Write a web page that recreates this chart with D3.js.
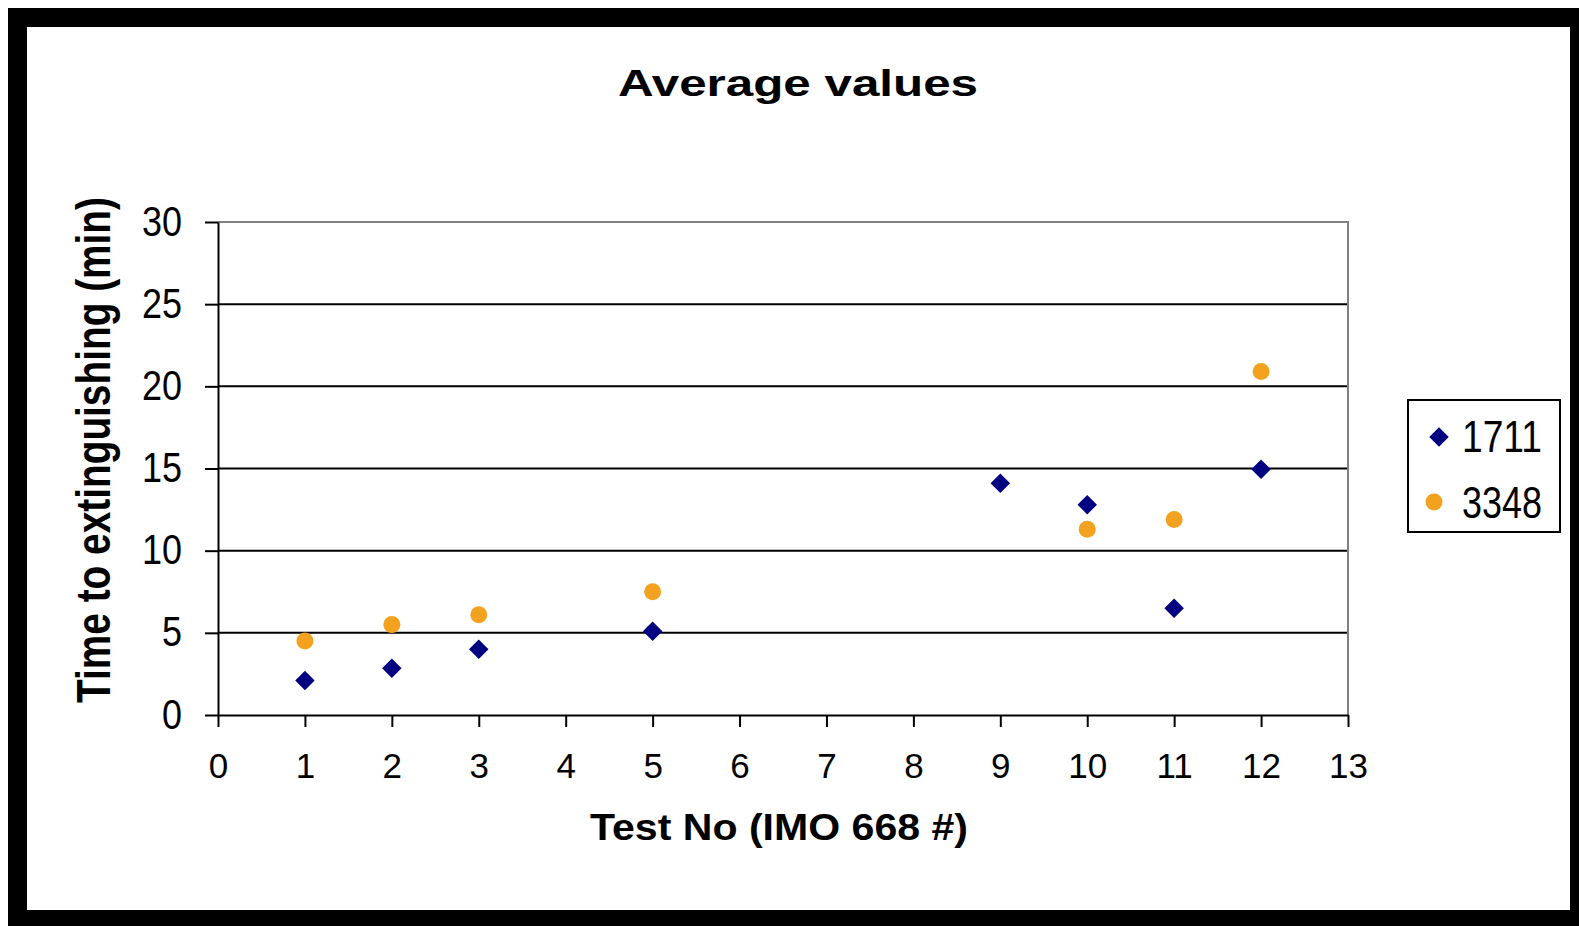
<!DOCTYPE html>
<html>
<head>
<meta charset="utf-8">
<script src="https://cdn.jsdelivr.net/npm/d3@7"></script>
<style>
  body { margin: 0; background: #fff; }
  text { font-family: "Liberation Sans", Arial, sans-serif; fill: #000; }
</style>
</head>
<body>
<div id="chart"></div>
<script>
// data
var testNo1711 = [1, 2, 3, 5, 9, 10, 11, 12];
var time1711 = [2.1, 2.85, 4.0, 5.1, 14.1, 12.8, 6.5, 14.95];
var testNo3348 = [1, 2, 3, 5, 10, 11, 12];
var time3348 = [4.5, 5.5, 6.1, 7.5, 11.3, 11.9, 20.9];
var seriesNames = ["1711", "3348"];
var xTicks = d3.range(0, 14);
var yTicks = [0, 5, 10, 15, 20, 25, 30];

var svgWidth = 1579, svgHeight = 926;
var margin = { top: 222, left: 218, right: 231, bottom: 211 };
var width = svgWidth - margin.left - margin.right;
var height = svgHeight - margin.top - margin.bottom;

var navy = "#000080", orange = "#f2a21e";

var svg = d3.select("#chart").append("svg")
  .attr("width", svgWidth)
  .attr("height", svgHeight);

// black frame round the picture
svg.append("rect").attr("x", 8).attr("y", 8)
  .attr("width", svgWidth - 8).attr("height", svgHeight - 8)
  .attr("fill", "#000");
svg.append("rect").attr("x", 27).attr("y", 27)
  .attr("width", 1570 - 27).attr("height", 910 - 27)
  .attr("fill", "#fff");

var chartGroup = svg.append("g")
  .attr("transform", `translate(${margin.left}, ${margin.top})`);

var xScale = d3.scaleLinear().domain([0, 13]).range([0, width]);
var yScale = d3.scaleLinear().domain([0, 30]).range([height, 0]);

// gridlines
chartGroup.append("g")
  .selectAll("line")
  .data(yTicks.filter(d => d > 0 && d < 30))
  .enter()
  .append("line")
  .attr("x1", 0).attr("x2", width)
  .attr("y1", d => yScale(d)).attr("y2", d => yScale(d))
  .attr("stroke", "#000").attr("stroke-width", 2);

// plot area border (top / right)
chartGroup.append("path")
  .attr("d", `M0,${yScale(30)}H${width}V${height}`)
  .attr("fill", "none").attr("stroke", "#808080").attr("stroke-width", 2);

// axes
var xAxis = d3.axisBottom(xScale).tickValues(xTicks).tickSize(12).tickSizeOuter(0).tickPadding(26);
var yAxis = d3.axisLeft(yScale).tickValues(yTicks).tickSize(13).tickSizeOuter(0).tickPadding(23);

var gx = chartGroup.append("g")
  .attr("transform", `translate(0, ${height})`)
  .call(xAxis);
gx.selectAll("text").style("font-size", "35px").style("font-family", "Liberation Sans, Arial, sans-serif");

var gy = chartGroup.append("g").call(yAxis);
gy.selectAll("text")
  .style("font-size", "42px")
  .style("font-family", "Liberation Sans, Arial, sans-serif")
  .attr("dy", 13)
  .attr("textLength", d => String(d).length * 20)
  .attr("lengthAdjust", "spacingAndGlyphs");

chartGroup.selectAll(".domain").attr("stroke", "#000").attr("stroke-width", 2);
chartGroup.selectAll(".tick line").attr("stroke", "#000").attr("stroke-width", 2);

// points
var diamond = d3.symbol(d3.symbolSquare, 190);

chartGroup.append("g")
  .selectAll("circle")
  .data(d3.zip(testNo3348, time3348))
  .enter()
  .append("circle")
  .attr("cx", d => xScale(d[0]))
  .attr("cy", d => yScale(d[1]))
  .attr("r", 8.5)
  .attr("fill", orange);

chartGroup.append("g")
  .selectAll("path")
  .data(d3.zip(testNo1711, time1711))
  .enter()
  .append("path")
  .attr("d", diamond)
  .attr("transform", d => `translate(${xScale(d[0])}, ${yScale(d[1])}) rotate(45)`)
  .attr("fill", navy);

// title and axis titles
svg.append("text")
  .attr("x", 798).attr("y", 96)
  .attr("text-anchor", "middle")
  .style("font-size", "37px").style("font-weight", "bold")
  .attr("textLength", 360).attr("lengthAdjust", "spacingAndGlyphs")
  .text("Average values");

svg.append("text")
  .attr("x", 779).attr("y", 840)
  .attr("text-anchor", "middle")
  .style("font-size", "36px").style("font-weight", "bold")
  .attr("textLength", 378).attr("lengthAdjust", "spacingAndGlyphs")
  .text("Test No (IMO 668 #)");

svg.append("text")
  .attr("transform", "translate(110, 450) rotate(-90)")
  .attr("text-anchor", "middle")
  .style("font-size", "49px").style("font-weight", "bold")
  .attr("textLength", 506).attr("lengthAdjust", "spacingAndGlyphs")
  .text("Time to extinguishing (min)");

// legend
var legend = svg.append("g");
legend.append("rect")
  .attr("x", 1408).attr("y", 400)
  .attr("width", 152).attr("height", 132)
  .attr("fill", "#fff").attr("stroke", "#000").attr("stroke-width", 2);

legend.append("path")
  .attr("d", diamond)
  .attr("transform", "translate(1439, 437) rotate(45)")
  .attr("fill", navy);
legend.append("circle")
  .attr("cx", 1434).attr("cy", 502).attr("r", 8.5)
  .attr("fill", orange);

legend.selectAll("text")
  .data(seriesNames)
  .enter()
  .append("text")
  .attr("x", 1462)
  .attr("y", (d, i) => 452 + i * 66)
  .style("font-size", "45px")
  .attr("textLength", 80).attr("lengthAdjust", "spacingAndGlyphs")
  .text(d => d);
</script>
</body>
</html>
